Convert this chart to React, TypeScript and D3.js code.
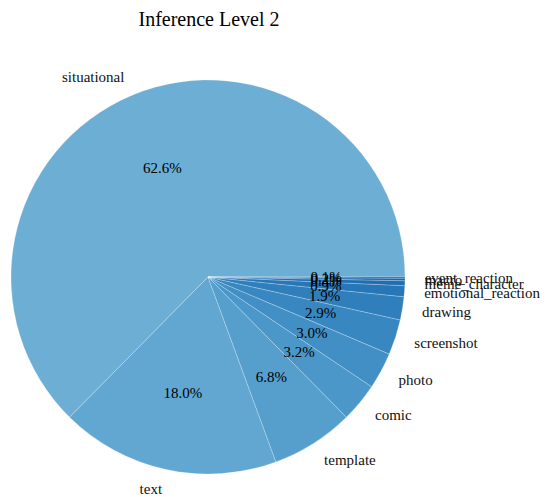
import React from "react";
import * as d3 from "d3";

const categories = [
  "situational",
  "text",
  "template",
  "comic",
  "photo",
  "screenshot",
  "drawing",
  "emotional_reaction",
  "meme_character",
  "macro",
  "event_reaction",
];
const shares = [62.6, 18.0, 6.8, 3.2, 3.0, 2.9, 1.9, 0.9, 0.4, 0.2, 0.1];
const title = "Inference Level 2";

const W = 549;
const H = 497;
const cx = 208;
const cy = 277;
const R = 197;
const FONT = "'Liberation Serif', 'Times New Roman', serif";

export default function App() {
  const rows = categories.map((c, i) => ({ label: c, value: shares[i], i }));
  // counter-clockwise from 3 o'clock
  const pie = d3
    .pie<any>()
    .value((d) => d.value)
    .sort(null)
    .startAngle(Math.PI / 2)
    .endAngle(Math.PI / 2 - 2 * Math.PI);
  const arcs = pie(rows);
  const arc = d3.arc<any>().innerRadius(0).outerRadius(R);
  const color = (i: number) => d3.interpolateBlues(0.5 + i * 0.033);
  const total = d3.sum(shares);

  const at = (a: number, r: number) => [Math.sin(a) * r, -Math.cos(a) * r];

  return (
    <svg
      width={W}
      height={H}
      style={{ position: "absolute", left: 0, top: 0, background: "#fff" }}
    >
      <text
        x={209}
        y={26}
        textAnchor="middle"
        fontFamily={FONT}
        fontSize={20}
        fill="#000"
      >
        {title}
      </text>
      <g transform={`translate(${cx},${cy})`}>
        {arcs.map((d) => (
          <path
            key={d.data.label}
            d={arc(d) as string}
            fill={color(d.data.i)}
            stroke="#ffffff"
            strokeOpacity={0.35}
            strokeWidth={0.7}
          />
        ))}
        {arcs.map((d) => {
          const mid = (d.startAngle + d.endAngle) / 2;
          const [lx, ly] = at(mid, R * 1.1);
          return (
            <text
              key={"l" + d.data.label}
              x={lx}
              y={ly}
              textAnchor={lx > 0 ? "start" : "end"}
              dominantBaseline="central"
              fontFamily={FONT}
              fontSize={15}
              fill="#111"
            >
              {d.data.label}
            </text>
          );
        })}
        {arcs.map((d) => {
          const mid = (d.startAngle + d.endAngle) / 2;
          const [px, py] = at(mid, R * 0.6);
          return (
            <text
              key={"p" + d.data.label}
              x={px}
              y={py}
              textAnchor="middle"
              dominantBaseline="central"
              fontFamily={FONT}
              fontSize={15}
              fill="#000"
            >
              {((d.data.value / total) * 100).toFixed(1) + "%"}
            </text>
          );
        })}
      </g>
    </svg>
  );
}
